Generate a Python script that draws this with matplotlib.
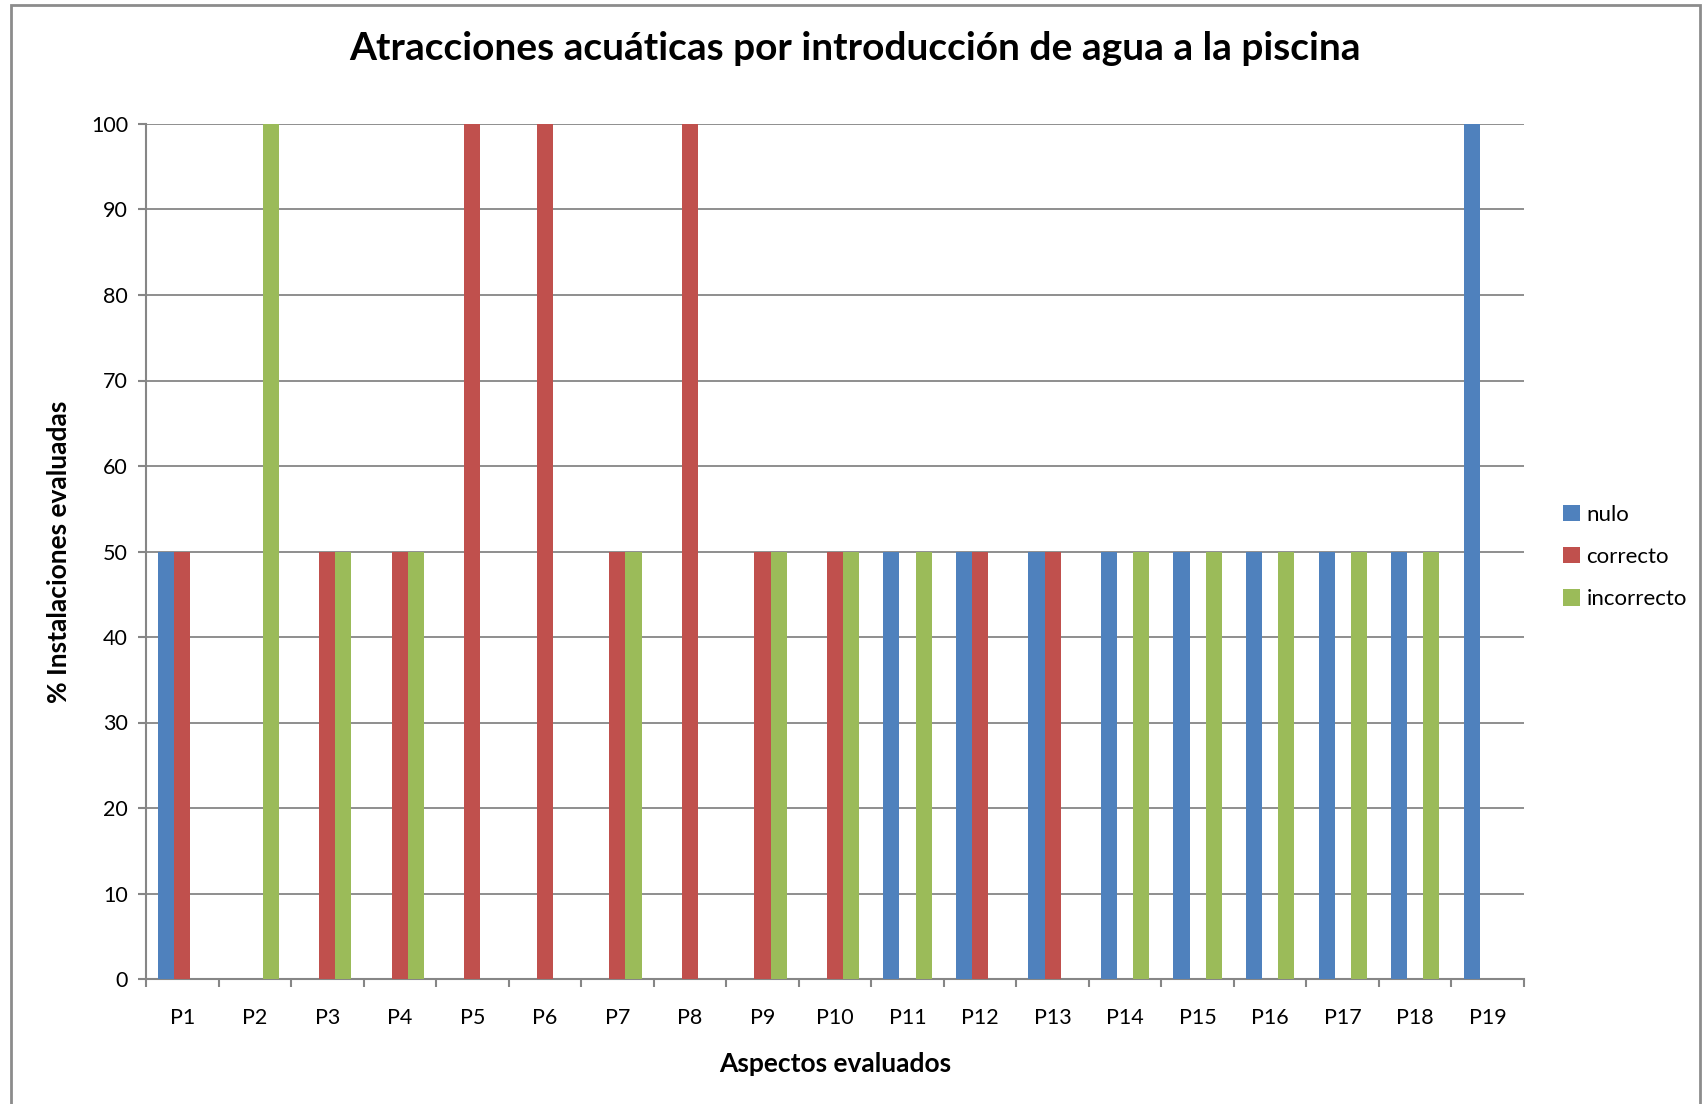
import matplotlib
matplotlib.use("Agg")
import matplotlib.pyplot as plt
import numpy as np
from matplotlib.patches import Rectangle

categories = [f"P{i}" for i in range(1, 20)]
nulo =       [50, 0, 0, 0, 0, 0, 0, 0, 0, 0, 50, 50, 50, 50, 50, 50, 50, 50, 100]
correcto =   [50, 0, 50, 50, 100, 100, 50, 100, 50, 50, 0, 50, 50, 0, 0, 0, 0, 0, 0]
incorrecto = [0, 100, 50, 50, 0, 0, 50, 0, 50, 50, 50, 0, 0, 50, 50, 50, 50, 50, 0]
series_names = ["nulo", "correcto", "incorrecto"]
colors = ["#4F81BD", "#C0504D", "#9BBB59"]

plt.rcParams['font.family'] = ['Lato', 'DejaVu Sans']

fig = plt.figure(figsize=(17.07, 11.04), dpi=100)
ax = fig.add_axes([146/1707, 1-979/1104, (1524-146)/1707, (979-124)/1104])

x = np.arange(len(categories))
w = 1/4.5
for i, (vals, name, c) in enumerate(zip([nulo, correcto, incorrecto], series_names, colors)):
    ax.bar(x + (i-1)*w, vals, width=w, color=c, label=name, zorder=3, linewidth=0)

ax.set_xlim(-0.5, len(categories)-0.5)
ax.set_ylim(0, 100)
ax.set_yticks(range(0, 101, 10))
ax.set_xticks(x)
ax.set_xticklabels(categories)
ax.set_xticks(np.arange(-0.5, len(categories), 1), minor=True)
ax.tick_params(axis='x', which='major', length=0, pad=21, labelsize=15.5)
ax.tick_params(axis='x', which='minor', length=6, width=1.5, color='#868686')
ax.tick_params(axis='y', length=6, width=1.5, color='#868686', labelsize=15.5, pad=7)
ax.grid(axis='y', color='#868686', linewidth=1.3, zorder=0)
for s in ['top', 'right']:
    ax.spines[s].set_visible(False)
for s in ['left', 'bottom']:
    ax.spines[s].set_color('#868686')
    ax.spines[s].set_linewidth(1.5)

ax.set_xlabel("Aspectos evaluados", fontsize=19, fontweight='bold', labelpad=17)
ax.set_ylabel("% Instalaciones evaluadas", fontsize=19, fontweight='bold', labelpad=14)
fig.text(855/1707, 1-49/1104, "Atracciones acuáticas por introducción de agua a la piscina",
         ha='center', va='center', fontsize=28, fontweight='bold')

leg = ax.legend(loc='center left', bbox_to_anchor=(1543/1707, 1-557/1104),
                bbox_transform=fig.transFigure, frameon=False, fontsize=16,
                handlelength=0.75, handleheight=0.75, handletextpad=0.3, labelspacing=1.0)

fig.patches.append(Rectangle((11/1707, -0.05), (1700-11)/1707, 1.05 - 4.5/1104,
                             transform=fig.transFigure, fill=False,
                             edgecolor='#8C8C8C', linewidth=2))

fig.savefig("out.png", dpi=100)
